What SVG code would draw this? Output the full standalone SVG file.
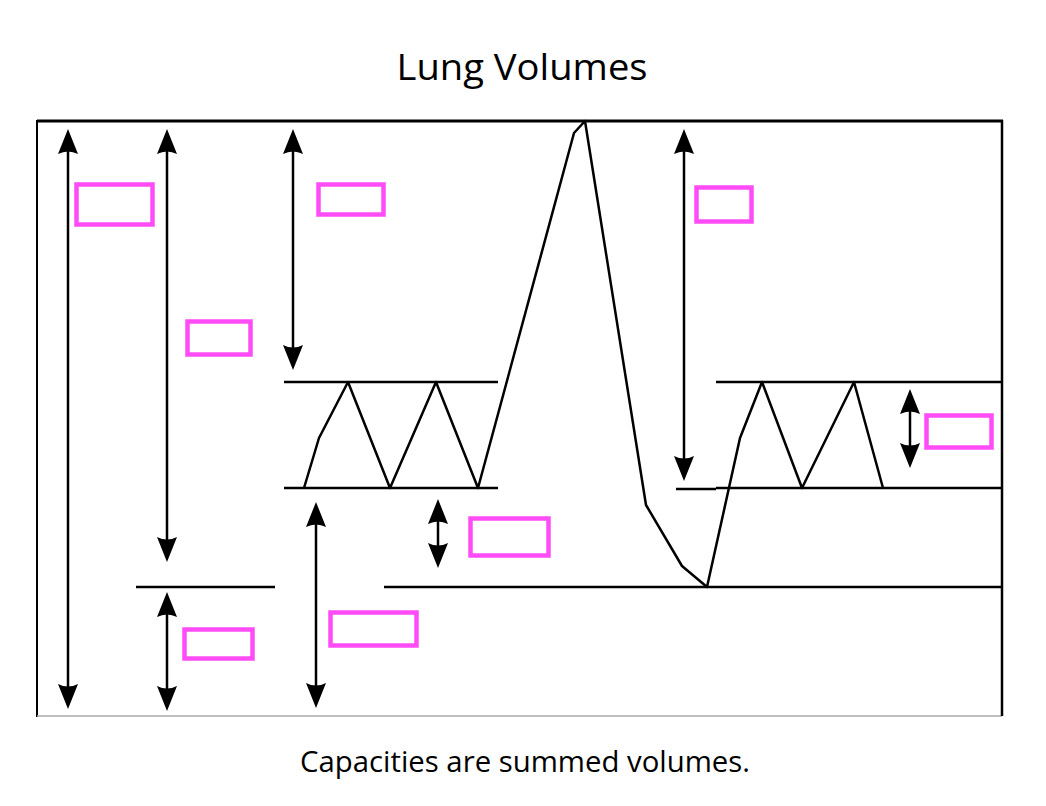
<svg xmlns="http://www.w3.org/2000/svg" width="1046" height="806" viewBox="0 0 1046 806">
<style>
.t{font-family:"Open Sans","Liberation Sans",sans-serif;fill:#000}
.ln{stroke:#000;stroke-width:2.5;fill:none;stroke-linejoin:round}
.ar{stroke:#000;stroke-width:2.5;fill:none;marker-start:url(#ah);marker-end:url(#ah)}
.bx{fill:none;stroke:#ff4cf6;stroke-width:4.5}
</style>
<defs>
<marker id="ah" markerUnits="userSpaceOnUse" markerWidth="26" markerHeight="22" viewBox="0 0 26 22" refX="14" refY="11" orient="auto-start-reverse">
<path d="M0,1 Q5,11 0,21 L25,11 Z" fill="#000"/>
</marker>
</defs>
<rect width="1046" height="806" fill="#fff"/>
<text class="t" x="522" y="80" font-size="36" text-anchor="middle" textLength="251" lengthAdjust="spacingAndGlyphs">Lung Volumes</text>
<text class="t" x="525" y="772" font-size="30" text-anchor="middle" textLength="450" lengthAdjust="spacingAndGlyphs">Capacities are summed volumes.</text>
<g id="frame">
<line x1="37" y1="121" x2="1003" y2="121" stroke="#000" stroke-width="3"/>
<line x1="37" y1="120" x2="37" y2="717" stroke="#000" stroke-width="2"/>
<line x1="37" y1="716" x2="1002" y2="716" stroke="#aaa" stroke-width="1.5"/>
<line x1="1002" y1="120" x2="1002" y2="716" stroke="#000" stroke-width="2.5"/>
</g>
<g id="levels">
<line class="ln" x1="284" y1="382" x2="498" y2="382"/>
<line class="ln" x1="284" y1="488" x2="498" y2="488"/>
<line class="ln" x1="136" y1="587" x2="275" y2="587"/>
<line class="ln" x1="384" y1="587" x2="1002" y2="587"/>
<line class="ln" x1="716" y1="382" x2="1002" y2="382"/>
<line class="ln" x1="676" y1="489" x2="716" y2="489"/>
<line class="ln" x1="716" y1="488" x2="1002" y2="488"/>
</g>
<g id="spirogram">
<polyline class="ln" points="304,488 319,438 348,382 390,488 436,382 478,488 574,133 585,121 646,505 682,566 707,587 740,438 762,382 802,488 854,382 883,488"/>
</g>
<g id="connectors">
<line class="ar" x1="68" y1="140" x2="68" y2="698"/>
<line class="ar" x1="167" y1="140" x2="167" y2="551"/>
<line class="ar" x1="167" y1="603" x2="167" y2="700"/>
<line class="ar" x1="293" y1="140" x2="293" y2="359"/>
<line class="ar" x1="316" y1="513" x2="316" y2="697"/>
<line class="ar" x1="438" y1="510" x2="438" y2="557"/>
<line class="ar" x1="684" y1="140" x2="684" y2="470"/>
<line class="ar" x1="910" y1="400" x2="910" y2="457"/>
</g>
<g id="box-trc"><rect class="bx" x="76.5" y="184.5" width="76" height="40"/></g>
<g id="box-irv"><rect class="bx" x="318.5" y="184.5" width="65" height="30"/></g>
<g id="box-vc"><rect class="bx" x="187.5" y="321.5" width="63" height="33"/></g>
<g id="box-ic"><rect class="bx" x="696.5" y="187.5" width="55" height="34"/></g>
<g id="box-tv"><rect class="bx" x="926.5" y="415.5" width="65" height="32"/></g>
<g id="box-erv"><rect class="bx" x="470.5" y="518.5" width="78" height="37"/></g>
<g id="box-rv"><rect class="bx" x="184.5" y="629.5" width="68" height="29"/></g>
<g id="box-frc"><rect class="bx" x="330.5" y="612.5" width="86" height="33"/></g>
</svg>
